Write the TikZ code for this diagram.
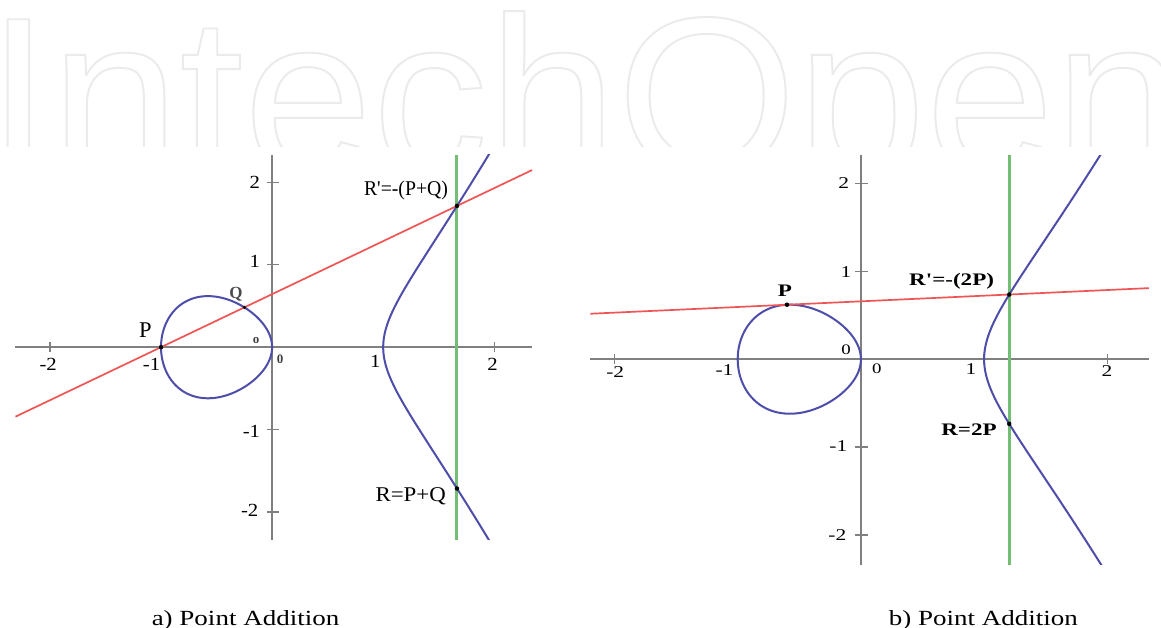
\documentclass[tikz,border=0pt]{standalone}
\usepackage{fontspec}
\setmainfont{Liberation Serif}
\newfontfamily\wmfont{Liberation Sans}
\usetikzlibrary{calc}
\definecolor{axisgray}{RGB}{128,128,128}
\definecolor{curveblue}{RGB}{78,78,170}
\definecolor{linered}{RGB}{240,85,85}
\definecolor{linegreen}{RGB}{115,190,115}
\begin{document}
\begin{tikzpicture}[x=1pt,y=-1pt,
  axisline/.style={draw=axisgray, line width=2pt},
  tickline/.style={draw=axisgray, line width=1.3pt},
  curvestyle/.style={draw=curveblue, line width=2pt},
  redstyle/.style={draw=linered, line width=1.7pt},
  greenstyle/.style={draw=linegreen, line width=3pt},
  ptdot/.style={circle, fill=black, inner sep=0pt, minimum size=4.5pt},
  lblL/.style={inner sep=0pt, font=\fontsize{21}{24}\selectfont},
  tickL/.style={inner sep=0pt, font=\fontsize{18.5}{20}\selectfont, xscale=1.12},
  tickR/.style={inner sep=0pt, font=\fontsize{16.5}{18}\selectfont, xscale=1.3},
  lblR/.style={inner sep=0pt, font=\fontsize{17.6}{20}\selectfont\bfseries, xscale=1.31},
  zeroS/.style={inner sep=0pt, font=\fontsize{13}{15}\selectfont\bfseries, text=black!75},
  capt/.style={inner sep=0pt, anchor=base, font=\fontsize{21.6}{24}\selectfont, xscale=1.25}
  ]
\fill[white] (0,0) rectangle (1161,628);
\useasboundingbox (0,0) rectangle (1161,628);

% watermark
\begin{scope}
  \clip (0,0) rectangle (1161,147);
  \node[inner sep=0pt, anchor=base west, xscale=1.038,
        font=\wmfont\fontsize{223}{223}\selectfont, text=black!6] (wm) at (-14,172.7)
        {\special{pdf:literal direct 0.92 0.92 0.92 RG 1.9 w 1 Tr}IntechOpen\special{pdf:literal direct 0 Tr}};
\end{scope}

% ---------------- left plot ----------------
\begin{scope}[shift={(272.1,347.2)}, x=111.1pt, y=82.35pt]
  \draw[axisline] (-2.31,0) -- (2.34,0);
  \draw[axisline] (0,-2.341) -- (0,2.334);
  \foreach \t in {-2,-1,1,2} {
    \draw[tickline] (\t,0) ++(0,-5pt) -- ++(0,10pt);
    \draw[tickline] (0,\t) ++(-5pt,0) -- ++(12pt,0);
  }
  \coordinate (P) at (-1,0);
  \coordinate (Rp) at (1.664,1.7157);
  \coordinate (R) at (1.664,-1.7157);
  \coordinate (Q) at (-0.2493,0.4835);
  \coordinate (gtop) at (1.664,2.334);
  \coordinate (gbot) at (1.664,-2.341);
  \draw[greenstyle] (gbot) -- (gtop);
  \begin{scope}
    \clip (-2.4,-2.341) rectangle (2.4,2.334);
    \draw[curvestyle] plot[domain=-1.05:1.05, samples=141, smooth, variable=\t]
      ({1+(\t)*(\t)},{(\t)*sqrt((1+(\t)*(\t))*(2+(\t)*(\t)))});
    \draw[curvestyle] plot[domain=0:357, samples=120, smooth cycle, variable=\a]
      ({-(1+cos(\a))/2},{sin(\a)/2*sqrt((3+cos(\a))/2)});
  \end{scope}
  \draw[redstyle] ($(P)!-0.4917!(Rp)$) -- ($(P)!1.2538!(Rp)$);
  \node[ptdot] (dP) at (P) {};
  \node[ptdot, minimum size=3.5pt] (dQ) at (Q) {};
  \node[ptdot] (dRp) at (Rp) {};
  \node[ptdot] (dR) at (R) {};
\end{scope}

\node[tickL] (ly2) at (254.8,182.3) {2};
\node[tickL] (ly1) at (254.8,261.7) {1};
\node[tickL] (lym1) at (251.4,431.7) {-1};
\node[tickL] (lym2) at (249.7,510) {-2};
\node[tickL] (lxm2) at (48.2,364.5) {-2};
\node[tickL] (lxm1) at (151.5,364.5) {-1};
\node[tickL] (lx1) at (375.4,361) {1};
\node[tickL] (lx2) at (492.5,364.5) {2};
\node[zeroS] (lo1) at (256,340) {o};
\node[zeroS] (lo2) at (280,359) {0};
\node[lblL, font=\fontsize{22.5}{24}\selectfont] (lP) at (145.5,330) {P};
\node[lblL, font=\fontsize{17}{20}\selectfont\bfseries, text=black!70] (lQ) at (236,294) {Q};
\node[lblL, xscale=0.94] (lRp) at (406,190) {R\textquotesingle=-(P+Q)};
\node[lblL, xscale=1.09] (lR) at (410.7,496.7) {R=P+Q};

% ---------------- right plot ----------------
\begin{scope}[shift={(860.9,359.2)}, x=123.2pt, y=87.9pt]
  \draw[axisline] (-2.196,0) -- (2.337,0);
  \draw[axisline] (0,-2.341) -- (0,2.323);
  \foreach \t in {-2,-1,1,2} {
    \draw[tickline] (\t,0) ++(0,-5pt) -- ++(0,10pt);
    \draw[tickline] (0,\t) ++(-6pt,0) -- ++(13pt,0);
  }
  \coordinate (P2) at (-0.6,0.6197);
  \coordinate (Rp2) at (1.204,0.7357);
  \coordinate (R2) at (1.204,-0.7357);
  \coordinate (g2top) at (1.204,2.323);
  \coordinate (g2bot) at (1.204,-2.341);
  \draw[greenstyle] (g2bot) -- (g2top);
  \begin{scope}
    \clip (-2.3,-2.341) rectangle (2.4,2.323);
    \draw[curvestyle] plot[domain=-1.05:1.05, samples=141, smooth, variable=\t]
      ({1+(\t)*(\t)},{(\t)*sqrt((1+(\t)*(\t))*(2+(\t)*(\t)))});
    \draw[curvestyle] plot[domain=0:357, samples=120, smooth cycle, variable=\a]
      ({-(1+cos(\a))/2},{sin(\a)/2*sqrt((3+cos(\a))/2)});
  \end{scope}
  \draw[redstyle] ($(P2)!-0.8847!(Rp2)$) -- ($(P2)!1.628!(Rp2)$);
  \node[ptdot] (dP2) at (P2) {};
  \node[ptdot] (dRp2) at (Rp2) {};
  \node[ptdot] (dR2) at (R2) {};
\end{scope}

\node[tickR] (ry2) at (843.8,183.3) {2};
\node[tickR] (ry1) at (846,271.7) {1};
\node[tickR] (rym1) at (838.3,446) {-1};
\node[tickR] (rym2) at (837.3,535) {-2};
\node[tickR] (rxm2) at (615.2,371.7) {-2};
\node[tickR] (rxm1) at (724.5,370) {-1};
\node[tickR] (rx1) at (970.9,369.3) {1};
\node[tickR] (rx2) at (1106.9,371) {2};
\node[tickR, font=\fontsize{14.5}{16}\selectfont] (ro1) at (846,350) {0};
\node[tickR, font=\fontsize{14.5}{16}\selectfont] (ro2) at (876.7,369) {0};
\node[lblR] (rP) at (785,290.7) {P};
\node[lblR] (rRp) at (951.6,281) {R\textquotesingle=-(2P)};
\node[lblR] (rR) at (969,430) {R=2P};

% captions
\node[capt] (capa) at (245.5,625) {a) Point Addition};
\node[capt] (capb) at (983.3,625) {b) Point Addition};
\end{tikzpicture}
\end{document}
